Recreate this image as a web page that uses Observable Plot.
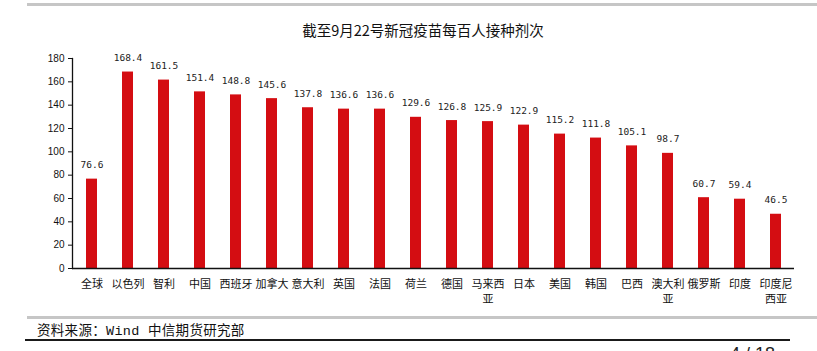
<!DOCTYPE html>
<html>
<head>
<meta charset="utf-8">
<script src="https://cdn.jsdelivr.net/npm/d3@7"></script>
<script src="https://cdn.jsdelivr.net/npm/@observablehq/plot@0.6"></script>
<style>
  html, body { margin: 0; padding: 0; background: #fff; }
  #wrap { position: relative; width: 817px; height: 351px; overflow: hidden; font-family: "Noto Sans CJK SC", sans-serif; }
  #chart { position: absolute; left: 0; top: 0; }
  .abs { position: absolute; }
  #topbar { left: 27px; top: 3px; width: 790px; height: 3px; background: #c6c6c6; }
  #title { left: 0; width: 846px; top: 20px; text-align: center; font-size: 14.5px; color: #111; line-height: 20px; }
  #botbar { left: 27px; top: 316px; width: 790px; height: 2.5px; background: #c6c6c6; }
  #source { left: 37px; top: 320px; font-size: 13.5px; line-height: 18px; color: #111; white-space: nowrap; letter-spacing: 0.3px; }
  #source .m { font-family: "Liberation Mono", "DejaVu Sans Mono", monospace; }
  #blackline { left: 25px; top: 339px; width: 765px; height: 1.6px; background: #1a1a1a; }
  #page { left: 730px; top: 344px; font-size: 18px; line-height: 20px; color: #222; font-family: "Liberation Sans", sans-serif; }
</style>
</head>
<body>
<div id="wrap">
  <div id="chart"></div>
  <div class="abs" id="topbar"></div>
  <div class="abs" id="title">截至9月22号新冠疫苗每百人接种剂次</div>
  <div class="abs" id="botbar"></div>
  <div class="abs" id="source">资料来源：<span class="m">Wind&nbsp;</span>中信期货研究部</div>
  <div class="abs" id="blackline"></div>
  <div class="abs" id="page">4 / 18</div>
</div>
<script>
const countries = ["全球","以色列","智利","中国","西班牙","加拿大","意大利","英国","法国","荷兰","德国","马来西亚","日本","美国","韩国","巴西","澳大利亚","俄罗斯","印度","印度尼西亚"];
const doses = [76.6,168.4,161.5,151.4,148.8,145.6,137.8,136.6,136.6,129.6,126.8,125.9,122.9,115.2,111.8,105.1,98.7,60.7,59.4,46.5];
const tickLabels = {"马来西亚":"马来西\n亚","澳大利亚":"澳大利\n亚","印度尼西亚":"印度尼\n西亚"};
const yTicks = [0,20,40,60,80,100,120,140,160,180];

const data = countries.map((c, i) => ({country: c, value: doses[i]}));

const chart = Plot.plot({
  width: 817,
  height: 351,
  marginLeft: 72,
  marginRight: 23,
  marginTop: 58,
  marginBottom: 83,
  style: {fontFamily: "Liberation Sans, Arial, sans-serif", fontSize: "10px", color: "#111", background: "transparent"},
  x: {domain: countries, paddingInner: 0.7, paddingOuter: 0.35, label: null, axis: null},
  y: {domain: [0, 180], label: null, axis: null},
  marks: [
    Plot.barY(data, {x: "country", y: "value", fill: "#d40d12"}),
    Plot.text(data, {x: "country", y: "value", text: d => d.value.toFixed(1), dy: -14,
      fontFamily: "DejaVu Sans Mono, Liberation Mono, monospace", fontSize: 9.5, fill: "#222"}),
    Plot.axisY({ticks: yTicks, tickSize: 4, tickPadding: 4, label: null, fontSize: 10, stroke: "#111"}),
    Plot.axisX({tickSize: 0, tickPadding: 9, label: null, lineHeight: 1.35,
      tickFormat: d => tickLabels[d] || d,
      fontFamily: "Noto Sans CJK SC, sans-serif", fontSize: 11}),
    Plot.ruleY([0], {stroke: "#111", strokeWidth: 1.3}),
    Plot.frame({anchor: "left", stroke: "#111", strokeWidth: 1.3})
  ]
});
document.getElementById("chart").appendChild(chart);
</script>
</body>
</html>
